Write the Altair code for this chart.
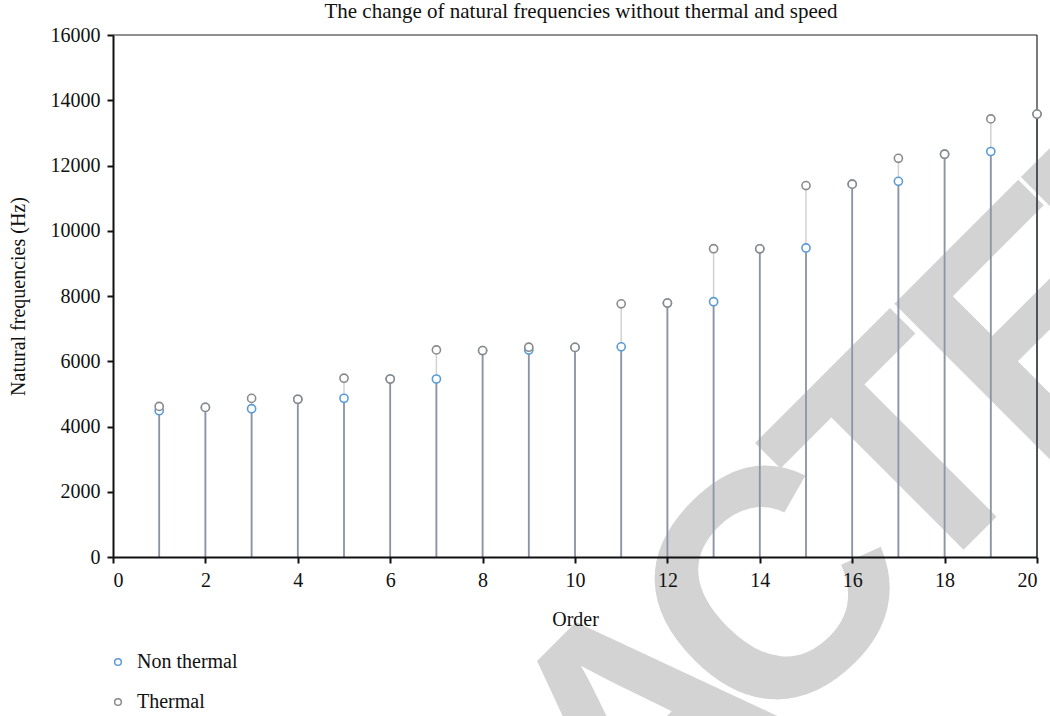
import altair as alt
import pandas as pd

# Natural frequencies (Hz) per mode order
orders = list(range(1, 21))
non_thermal = [4484, 4586, 4545, 4835, 4864, 5455, 5456, 6327, 6342, 6425,
               6442, 7782, 7825, 9445, 9472, 11428, 11515, 12346, 12429, 13575]
thermal = [4616, 4586, 4862, 4835, 5480, 5455, 6348, 6327, 6430, 6425,
           7760, 7782, 9450, 9445, 11385, 11428, 12220, 12346, 13428, 13575]
series_names = ["Non thermal", "Thermal"]
x_ticks = list(range(0, 21, 2))
y_ticks = list(range(0, 16001, 2000))
stamp_letters = list("RETRACTED")

SERIF = "Liberation Serif"
BLUE = "#5b9bd5"
GREY = "#8a8a8a"

stems = pd.DataFrame({"order": orders, "non_thermal": non_thermal, "thermal": thermal})
points = pd.concat([
    pd.DataFrame({"order": orders, "freq": non_thermal, "series": series_names[0]}),
    pd.DataFrame({"order": orders, "freq": thermal, "series": series_names[1]}),
], ignore_index=True)

x_scale = alt.Scale(domain=[0, 20], nice=False, zero=True)
y_scale = alt.Scale(domain=[0, 16000], nice=False)

x_axis = alt.Axis(values=x_ticks, format="d", zindex=1, grid=False)
y_axis = alt.Axis(values=y_ticks, format="d", zindex=1, grid=False)


def xq(field):
    return alt.X(f"{field}:Q", scale=x_scale, axis=x_axis, title="Order")


def yq(field):
    return alt.Y(f"{field}:Q", scale=y_scale, axis=y_axis, title="Natural frequencies (Hz)")


# Diagonal stamp: letters laid along a 45-degree baseline (u along it, v across it)
stamp = alt.Chart(
    pd.DataFrame({"letter": stamp_letters, "idx": list(range(len(stamp_letters)))})
).transform_calculate(
    u="222 + (datum.idx - 5.5) * 188",
).transform_calculate(
    px="(datum.u + 1070) / sqrt(2) - 113",
    py="(1070 - datum.u) / sqrt(2) - 35",
).mark_text(
    font="Liberation Sans", fontWeight="bold", fontSize=324, angle=315,
    align="center", baseline="alphabetic", color="#d3d3d3", clip=False,
).encode(
    text="letter:N",
    x=alt.X("px:Q", scale=None, title="Order"),
    y=alt.Y("py:Q", scale=None, title="Natural frequencies (Hz)"),
)

thermal_stems = alt.Chart(stems).mark_rule(color="#d2d2d2", strokeWidth=1.5).encode(
    x=xq("order"), y=yq("thermal"), y2=alt.datum(0)
)
non_thermal_stems = alt.Chart(stems).mark_rule(color="#8b95a7", strokeWidth=1.8).encode(
    x=xq("order"), y=yq("non_thermal"), y2=alt.datum(0)
)

frame = pd.DataFrame({"k": [0]})
top_border = alt.Chart(frame).mark_rule(color="#222222", strokeWidth=1).encode(
    y=alt.datum(16000)
)
right_border = alt.Chart(frame).mark_rule(color="#222222", strokeWidth=1.2).encode(
    x=alt.datum(20)
)

markers = alt.Chart(points).mark_point(
    shape="circle", filled=False, fill="white", fillOpacity=1, size=66,
    strokeWidth=1.6, opacity=1,
).encode(
    x=xq("order"),
    y=yq("freq"),
    color=alt.Color(
        "series:N",
        scale=alt.Scale(domain=series_names, range=[BLUE, GREY]),
        legend=alt.Legend(title=None, orient="none", legendX=-5, legendY=617),
    ),
)

chart = alt.layer(
    stamp, thermal_stems, non_thermal_stems, top_border, right_border, markers
).properties(
    width=924,
    height=522,
    title=alt.TitleParams(
        "The change of natural frequencies without thermal and speed",
        font=SERIF, fontSize=21, fontWeight="normal", color="#111111",
        anchor="middle", offset=-21, dx=6,
    ),
    autosize=alt.AutoSizeParams(type="none"),
    padding={"left": 113, "top": 35, "right": 13, "bottom": 159},
).configure_view(
    stroke=None
).configure_axis(
    domainColor="#111111", domainWidth=2, tickColor="#111111", tickWidth=2,
    tickSize=6, labelFont=SERIF, labelFontSize=20, labelColor="#111111",
    titleFont=SERIF, titleFontSize=20, titleFontWeight="normal", titleColor="#111111",
    labelPadding=7,
).configure_axisX(
    titlePadding=19
).configure_axisY(
    titlePadding=22
).configure_legend(
    labelFont=SERIF, labelFontSize=20, labelColor="#111111", symbolType="circle",
    symbolSize=45, symbolStrokeWidth=1.5, symbolFillColor="white", rowPadding=20,
    labelOffset=9, padding=0,
)

chart.save("out.html", embed_options={"renderer": "svg", "actions": False})
